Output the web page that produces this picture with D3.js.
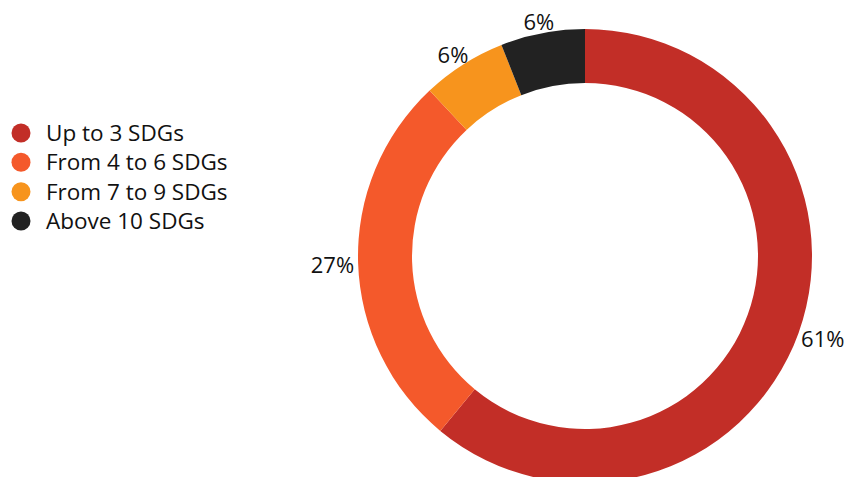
<!DOCTYPE html>
<html><head><meta charset="utf-8">
<script src="https://cdn.jsdelivr.net/npm/d3@7"></script>
<style>body{margin:0;background:#fff}svg{display:block}text{font-family:"Open Sans",sans-serif;fill:#111}</style>
</head><body><svg id="c" width="851" height="477"></svg>
<script>
const categories = ["Up to 3 SDGs","From 4 to 6 SDGs","From 7 to 9 SDGs","Above 10 SDGs"];
const values = [61, 27, 6, 6];
const labels = ["61%","27%","6%","6%"];
const colors = ["#C22E27","#F4592B","#F7941D","#222222"];

const svg = d3.select("#c");
const cx = 585, cy = 256, R = 227, r0 = 173;
const pie = d3.pie().sort(null).value(d => d)(values);
const arc = d3.arc().innerRadius(r0).outerRadius(R);
const g = svg.append("g").attr("transform", `translate(${cx},${cy})`);
g.selectAll("path").data(pie).join("path").attr("d", arc).attr("fill", (d,i) => colors[i]);
g.selectAll("text").data(pie).join("text")
  .attr("text-anchor","middle").attr("dy","0.35em")
  .attr("font-size", 22).text((d,i) => labels[i])
  .each(function(d){
    const a = (d.startAngle + d.endAngle) / 2;
    const dx = Math.sin(a), dy = -Math.cos(a);
    const b = this.getBBox();
    const rr = R + 4;
    const x = dx * rr + dx * b.width / 2;
    const y = dy * rr + dy * 9 + 2;
    d3.select(this).attr("x", x).attr("y", y);
  });

const leg = svg.append("g");
const color = d3.scaleOrdinal().domain(categories).range(colors);
const y = d3.scalePoint().domain(categories).range([133, 221]);
leg.selectAll("circle").data(categories).join("circle")
  .attr("cx", 21).attr("cy", d => y(d)).attr("r", 9.5).attr("fill", d => color(d));
leg.selectAll("text").data(categories).join("text")
  .attr("x", 46).attr("y", d => y(d)).attr("dy","0.35em").attr("font-size", 22.5).text(d => d);
</script></body></html>
